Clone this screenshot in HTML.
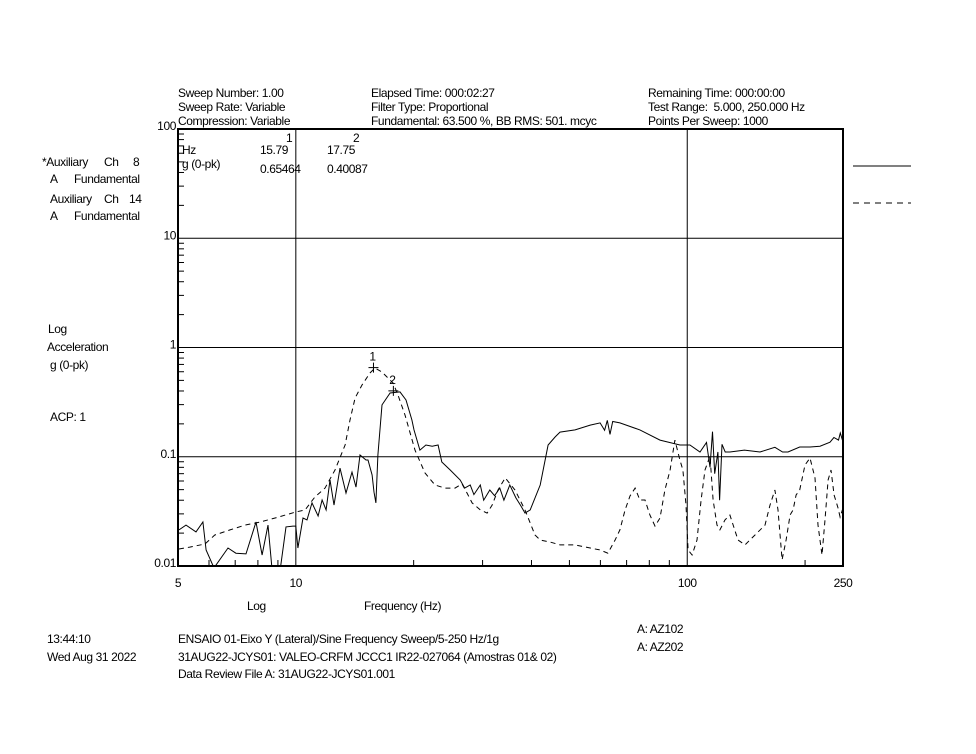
<!DOCTYPE html>
<html><head><meta charset="utf-8"><style>
html,body{margin:0;padding:0;background:#fff;}
svg{display:block;}
text{font-family:"Liberation Sans",sans-serif;font-size:12px;fill:#000;letter-spacing:-0.4px;white-space:pre;}
</style></head><body>
<svg id="chart" width="976" height="754" viewBox="0 0 976 754" xmlns="http://www.w3.org/2000/svg">
<g>
<text x="178" y="97">Sweep Number: 1.00</text>
<text x="178" y="111">Sweep Rate: Variable</text>
<text x="178" y="125">Compression: Variable</text>
<text x="371" y="97">Elapsed Time: 000:02:27</text>
<text x="371" y="111">Filter Type: Proportional</text>
<text x="371" y="125">Fundamental: 63.500 %, BB RMS: 501. mcyc</text>
<text x="648" y="97">Remaining Time: 000:00:00</text>
<text x="648" y="111">Test Range:  5.000, 250.000 Hz</text>
<text x="648" y="125">Points Per Sweep: 1000</text>
</g>
<g>
<text x="42" y="166">*Auxiliary</text><text x="104" y="166">Ch</text><text x="133" y="166">8</text>
<text x="50" y="183">A</text><text x="74" y="183">Fundamental</text>
<text x="50" y="203">Auxiliary</text><text x="104" y="203">Ch</text><text x="129" y="203">14</text>
<text x="50" y="220">A</text><text x="74" y="220">Fundamental</text>
<line x1="853" y1="166" x2="911" y2="166" stroke="#000" stroke-width="1"/>
<line x1="853" y1="203" x2="911" y2="203" stroke="#000" stroke-width="1" stroke-dasharray="6,5"/>
</g>
<g>
<text x="48" y="333">Log</text>
<text x="47" y="351">Acceleration</text>
<text x="50" y="369">g (0-pk)</text>
<text x="50" y="421">ACP: 1</text>
</g>
<g>
<text x="286" y="142">1</text>
<text x="353" y="142">2</text>
<text x="182" y="154">Hz</text>
<text x="260" y="154">15.79</text>
<text x="327" y="154">17.75</text>
<text x="182" y="168">g (0-pk)</text>
<text x="260" y="173">0.65464</text>
<text x="327" y="173">0.40087</text>
</g>
<g>
<text x="247" y="610">Log</text>
<text x="364" y="610">Frequency (Hz)</text>
</g>
<g>
<text x="47" y="643">13:44:10</text>
<text x="47" y="661">Wed Aug 31 2022</text>
<text x="178" y="643">ENSAIO 01-Eixo Y (Lateral)/Sine Frequency Sweep/5-250 Hz/1g</text>
<text x="178" y="661">31AUG22-JCYS01: VALEO-CRFM JCCC1 IR22-027064 (Amostras 01&amp; 02)</text>
<text x="178" y="678">Data Review File A: 31AUG22-JCYS01.001</text>
<text x="637" y="633">A: AZ102</text>
<text x="637" y="651">A: AZ202</text>
</g>
<g id="axes"></g>
<g id="plot"></g>
</svg>
<script>
// X axis (log): 5..250 Hz ; Y axis (log): 0.01..100 g
const xTickValues = [5, 10, 100, 250];
const xTickLabels = ["5", "10", "100", "250"];
const yTickValues = [100, 10, 1, 0.1, 0.01];
const yTickLabels = ["100", "10", "1", "0.1", "0.01"];

// Series 1 (solid): Auxiliary Ch 8
const solidFreq = [5.03,5.24,5.56,5.79,5.90,6.18,6.71,7.03,7.46,7.91,8.20,8.49,8.70,9.11,9.44,9.83,10.0,10.12,10.43,10.68,11.0,11.40,11.67,11.95,12.23,12.52,12.97,13.43,13.92,14.25,14.59,15.11,15.29,15.66,15.84,16.02,16.21,16.6,17.41,18.46,19.12,19.8,20.04,20.75,21.5,22.3,23.1,23.6,24.8,26.3,27.0,27.9,28.5,29.6,30.2,31.3,32.2,33.2,34.0,35.2,36.5,37.5,38.5,39.7,42.1,44.1,46.0,47.3,51.7,56.5,59.9,61.5,62.5,63.5,64.5,67.3,75.7,85.2,95.8,101.6,107.8,112.0,114.3,116.0,117.5,119.8,121.0,122.7,125.0,128.5,140.0,153.4,167.5,175.2,180.9,193.8,205.9,218.4,231.6,237.0,243.4,246.0,250];
const solidG = [0.0214,0.0237,0.0205,0.0253,0.0140,0.0096,0.0146,0.0131,0.0129,0.0253,0.0126,0.0237,0.0090,0.0090,0.0228,0.0232,0.0232,0.0146,0.0275,0.0264,0.0378,0.0287,0.0402,0.0326,0.0612,0.0361,0.0788,0.0466,0.0724,0.0528,0.1038,0.0933,0.0933,0.068,0.0475,0.0378,0.1038,0.298,0.383,0.392,0.331,0.217,0.176,0.115,0.128,0.125,0.128,0.0895,0.0757,0.0612,0.0517,0.0551,0.045,0.0551,0.040,0.0496,0.044,0.0517,0.040,0.0551,0.042,0.036,0.0305,0.0326,0.0551,0.128,0.152,0.168,0.176,0.195,0.204,0.175,0.215,0.160,0.210,0.204,0.176,0.142,0.128,0.128,0.1105,0.135,0.08,0.17,0.07,0.1105,0.04,0.13,0.1105,0.1105,0.115,0.1105,0.122,0.1105,0.1105,0.1228,0.1228,0.125,0.136,0.15,0.142,0.165,0.1364];

// Series 2 (dashed): Auxiliary Ch 14
const dashFreq = [5.03,5.36,5.86,6.21,6.79,7.42,8.11,8.85,10.0,10.56,11.19,11.87,12.59,13.36,13.75,14.17,14.76,15.47,15.93,16.6,17.2,17.72,18.24,19.01,20.16,21.38,22.67,24.05,25.5,26.58,27.38,28.2,29.6,30.8,31.73,32.85,34.26,36.3,38.5,40.83,42.1,44.6,47.3,51.7,56.5,59.9,62.7,65.4,67.3,69.4,71.4,73.6,75.7,78.0,80.3,82.7,85.2,87.7,90.4,93.0,95.8,97.5,99.3,100.5,102.9,105.9,108.5,111.0,114.3,116.4,119.1,121.2,124.9,128.5,134.8,140.5,144.6,149.0,158.0,162.7,167.5,170.6,174.7,178.9,183.1,186.4,189.7,193.8,199.9,205.9,212.0,215.8,221.0,224.9,229.0,233.0,237.2,242.8,245.7,250];
const dashG = [0.0143,0.0149,0.0159,0.0192,0.0214,0.0237,0.0253,0.0275,0.0312,0.0326,0.0428,0.0517,0.0757,0.128,0.217,0.345,0.454,0.584,0.649,0.597,0.526,0.473,0.367,0.241,0.115,0.071,0.0551,0.0517,0.0517,0.0564,0.0466,0.0378,0.0326,0.0305,0.0361,0.0496,0.064,0.0496,0.0326,0.0192,0.0173,0.0166,0.0156,0.0156,0.0146,0.0140,0.0131,0.0173,0.0214,0.0326,0.0437,0.0517,0.0402,0.0402,0.0293,0.0232,0.0275,0.0496,0.0757,0.142,0.0933,0.0757,0.0361,0.0140,0.0126,0.0173,0.0402,0.0757,0.1016,0.0402,0.0237,0.0214,0.0264,0.0293,0.0173,0.0156,0.0173,0.0192,0.0237,0.0361,0.0496,0.0326,0.0114,0.0173,0.0293,0.0326,0.0447,0.0496,0.0841,0.0975,0.064,0.0237,0.0126,0.0264,0.0612,0.0757,0.0447,0.034,0.0280,0.0340];

const marker1 = [15.79, 0.65464];
const marker2 = [17.75, 0.40087];

const L = 178, R = 843, T = 129, B = 566;
const xMin = 5, xMax = 250, yMin = 0.01, yMax = 100;
function xs(f){ return L + (Math.log10(f/xMin)/Math.log10(xMax/xMin))*(R-L); }
function ys(g){ const c = Math.max(yMin*0.9, g); return B - (Math.log10(c/yMin)/Math.log10(yMax/yMin))*(B-T); }

const NS = "http://www.w3.org/2000/svg";
const axes = document.getElementById('axes');
const plot = document.getElementById('plot');
function mk(tag, parent, attrs){ const e=document.createElementNS(NS,tag); for(const k in attrs) e.setAttribute(k,attrs[k]); parent.appendChild(e); return e; }

[10,100].forEach(v=>{
  const l = mk('line', axes, {x1:xs(v),x2:xs(v),y1:T,y2:B,stroke:'#000','stroke-width':1});
  
  
});
[10,1,0.1].forEach(v=>{
  const l = mk('line', axes, {x1:L,x2:R,y1:ys(v),y2:ys(v),stroke:'#000','stroke-width':1});
  
  
});
for(let d=0.01; d<100; d*=10){
  for(let m=2;m<=9;m++){
    const y=ys(d*m);
    const t = mk('line', axes, {x1:L,x2:L+6,y1:y,y2:y,stroke:'#000','stroke-width':1});
    
    
  }
}
[6,7,8,9,20,30,40,50,60,70,80,90,200].forEach(v=>{
  const x=xs(v);
  const t = mk('line', axes, {x1:x,x2:x,y1:B,y2:B-6,stroke:'#000','stroke-width':1});
  
  
});
const fr = mk('rect', axes, {x:L,y:T,width:R-L,height:B-T,fill:'none',stroke:'#000','stroke-width':2});


xTickValues.forEach((v,i)=>{
  const t = mk('text', axes, {x:xs(v),y:B+21,'text-anchor':'middle'});
  t.textContent = xTickLabels[i];
  
  
});
yTickValues.forEach((v,i)=>{
  const t = mk('text', axes, {x:L-2,y:ys(v)+1,'text-anchor':'end'});
  t.textContent = yTickLabels[i];
  
  
});
function pathOf(fa, ga){ return fa.map((f,i)=>(i?'L':'M')+xs(f).toFixed(1)+','+ys(ga[i]).toFixed(1)).join(' '); }
const clip = mk('clipPath', plot, {id:'pc'});
mk('rect', clip, {x:L,y:T,width:R-L,height:B-T});
const s1 = mk('path', plot, {d:pathOf(solidFreq, solidG),fill:'none',stroke:'#000','stroke-width':1,'clip-path':'url(#pc)'});


const s2 = mk('path', plot, {d:pathOf(dashFreq, dashG),fill:'none',stroke:'#000','stroke-width':1,'stroke-dasharray':'5,4','clip-path':'url(#pc)'});


[[marker1,'1'],[marker2,'2']].forEach(([m,lab])=>{
  const x=xs(m[0]), y=ys(m[1]);
  const g = mk('g', plot, {});
  
  
  mk('line', g, {x1:x-5,x2:x+5,y1:y,y2:y,stroke:'#000'});
  mk('line', g, {x1:x,x2:x,y1:y-5,y2:y+5,stroke:'#000'});
  const t = mk('text', g, {x:x-1,y:y-7,'text-anchor':'middle'});
  t.textContent = lab;
});
</script>
</body></html>
